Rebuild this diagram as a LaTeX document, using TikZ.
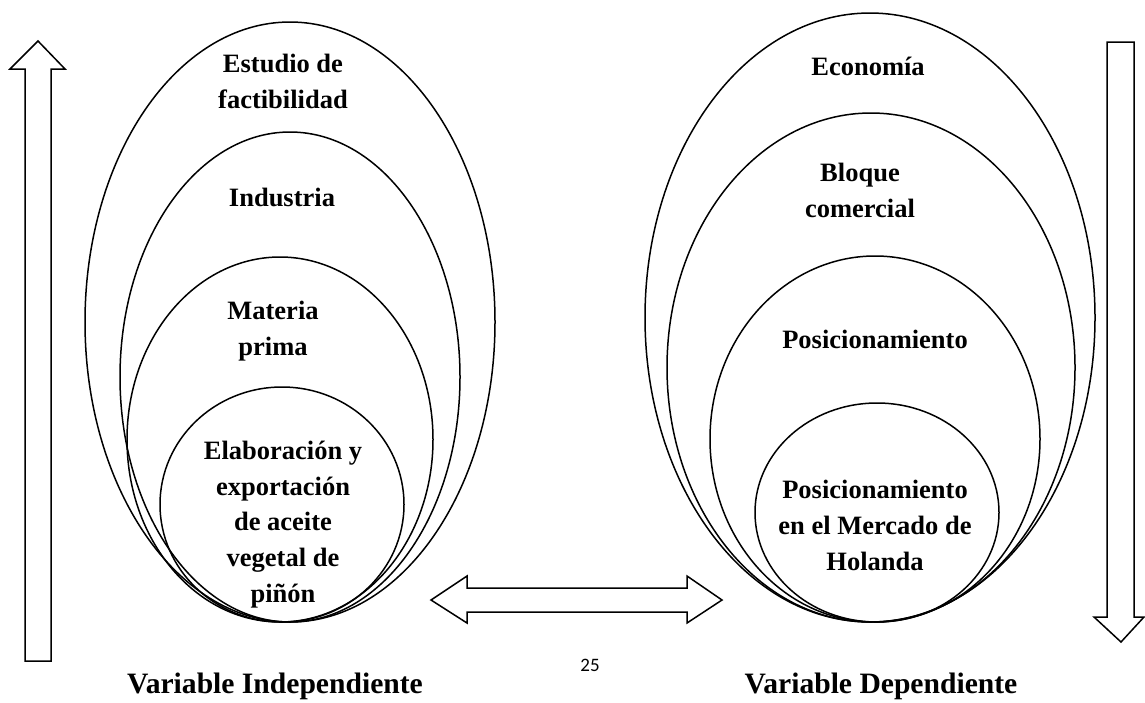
\documentclass[tikz,border=0pt]{standalone}
\usepackage{fontspec}
\setmainfont{Liberation Serif}
\newfontfamily\numfont{Carlito}
\begin{document}
\begin{tikzpicture}[x=1pt,y=-1pt,
  oval/.style={draw=black,line width=1.5pt},
  blockarrow/.style={draw=black,line width=1.5pt,fill=white,line join=miter},
  lbl/.style={font=\fontsize{26.5}{35.6}\selectfont\bfseries,align=center,inner sep=0pt,anchor=base},
  captext/.style={font=\fontsize{29.6}{34}\selectfont\bfseries,inner sep=0pt,anchor=base}]
\useasboundingbox (0,0) rectangle (1145,702);
% left group
\draw[oval] (290,322) ellipse [x radius=205,y radius=300];
\draw[oval] (290,377) ellipse [x radius=170,y radius=245];
\draw[oval] (280,439.5) ellipse [x radius=153,y radius=182.5];
\draw[oval] (282,504.5) ellipse [x radius=122,y radius=117.5];
% right group
\draw[oval] (870,317.5) ellipse [x radius=225,y radius=304.5];
\draw[oval] (871,367.5) ellipse [x radius=204,y radius=254.5];
\draw[oval] (875,439) ellipse [x radius=165,y radius=183];
\draw[oval] (877,512.5) ellipse [x radius=122,y radius=109.5];
% labels left (anchor = baseline of last line)
\node[lbl] (l1) at (283,108) {Estudio de\\factibilidad};
\node[lbl] (l2) at (282,206) {Industria};
\node[lbl] (l3) at (273,355) {Materia\\prima};
\node[lbl] (l4) at (283,602) {Elaboración y\\exportación\\de aceite\\vegetal de\\piñón};
% labels right
\node[lbl] (r1) at (868,75) {Economía};
\node[lbl] (r2) at (860,217) {Bloque\\comercial};
\node[lbl] (r3) at (875,348) {Posicionamiento};
\node[lbl] (r4) at (875,570) {Posicionamiento\\en el Mercado de\\Holanda};
% arrows
\draw[blockarrow] (38,41) -- (65,69) -- (51,69) -- (51,661) -- (25,661) -- (25,69) -- (10,69) -- cycle;
\draw[blockarrow] (1121,642) -- (1144,617) -- (1134,617) -- (1134,42) -- (1107,42) -- (1107,617) -- (1094,617) -- cycle;
\draw[blockarrow] (431,600) -- (467,576) -- (467,588) -- (687,588) -- (687,576) -- (722,600) -- (687,623) -- (687,612) -- (467,612) -- (467,623) -- cycle;
% captions
\node[captext] (ci) at (275,693) {Variable Independiente};
\node[captext] (cd) at (881,693) {Variable Dependiente};
\node[font=\numfont\fontsize{19}{22}\selectfont,inner sep=0pt] (pg) at (590,665) {25};
\end{tikzpicture}
\end{document}
